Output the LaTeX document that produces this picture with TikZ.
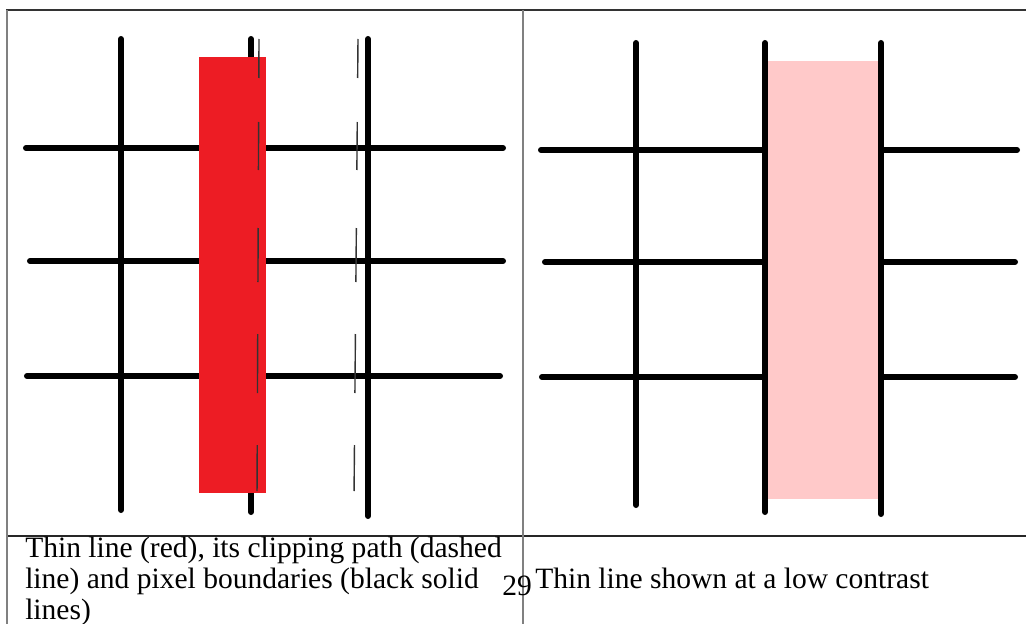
\documentclass[tikz,border=0pt]{standalone}
\usepackage{fontspec}
\setmainfont{Liberation Serif}
\definecolor{paintred}{HTML}{ED1C24}
\definecolor{lowpink}{HTML}{FFC9C9}

\begin{document}
\begin{tikzpicture}[x=0.025cm,y=-0.025cm,
    pixline/.style={line width=0.15cm,line cap=round},
    clipdash/.style={line width=0.035cm,black!80},
    tablerule/.style={line width=0.05cm},
    captext/.style={anchor=base west,inner sep=0pt,align=left,
      font=\fontsize{21}{22}\selectfont}]
  \useasboundingbox (0,0) rectangle (1026,624);
  % table rules
  \draw[tablerule,black!80] (6,10) -- (1026,10);
  \draw[tablerule,black!85] (6,536) -- (1026,536);
  \draw[tablerule,black!50] (7,10) -- (7,624);
  \draw[tablerule,black!50] (523,10) -- (523,624);
  % left cell: pixel boundaries
  \draw[pixline] (26,148) -- (503,148);
  \draw[pixline] (30,261) -- (503,261);
  \draw[pixline] (27,376) -- (500,376);
  \draw[pixline] (121,39) -- (121,510);
  \draw[pixline] (251,39) -- (251,512);
  \draw[pixline] (368,39) -- (368,516);
  % thin line (red)
  \fill[paintred] (199,57) rectangle (266,493);
  % its clipping path
  \foreach \ya/\yb in {39/78,122/170,228/282,334/393,445/491}{
    \draw[clipdash] ({259-(\ya-39)/230},\ya) -- ({259-(\yb-39)/230},\yb);
    \draw[clipdash] ({358-(\ya-39)/115},\ya) -- ({358-(\yb-39)/115},\yb);
  }
  % right cell: same line at a low contrast
  \draw[pixline] (541,150) -- (1017,150);
  \draw[pixline] (545,262) -- (1015,262);
  \draw[pixline] (542,377) -- (1015,377);
  \fill[lowpink] (767,61) rectangle (879,499);
  \draw[pixline] (636,43) -- (636,505);
  \draw[pixline] (765,43) -- (765,512);
  \draw[pixline] (881,43) -- (881,514);
  % captions (base = last line)
  \node[captext] (leftcap) at (25,619) {Thin line (red), its clipping path (dashed\\
    line) and pixel boundaries (black solid\\lines)};
  \node[captext] (pagenum) at (502,595) {29};
  \node[captext] (rightcap) at (535,588) {Thin line shown at a low contrast};
\end{tikzpicture}
\end{document}
